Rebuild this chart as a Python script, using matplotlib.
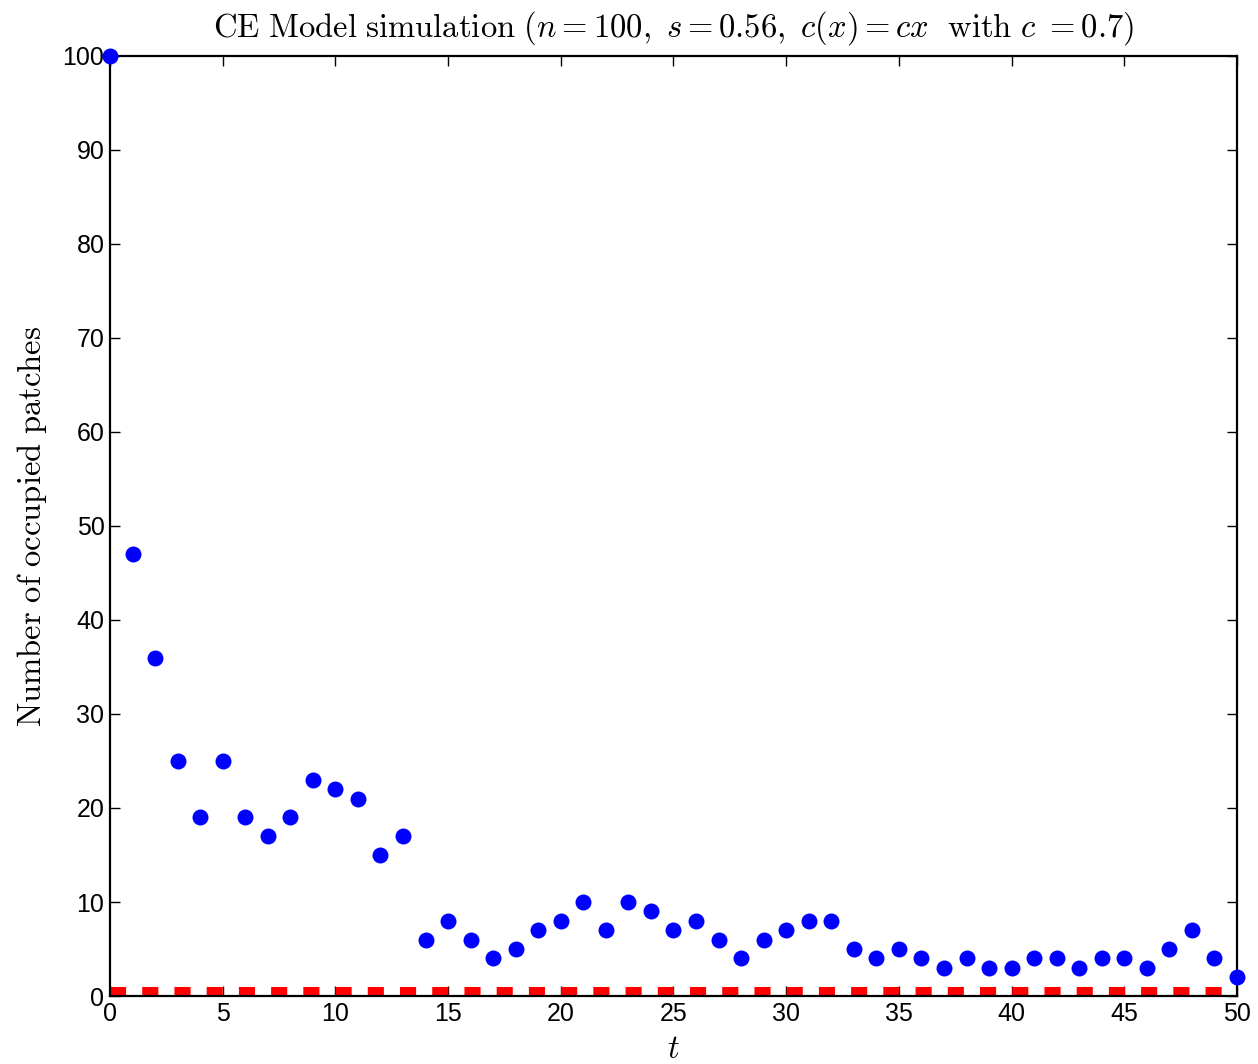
import matplotlib
matplotlib.use("Agg")
import matplotlib.pyplot as plt

t = list(range(51))
occupied = [100, 47, 36, 25, 19, 25, 19, 17, 19, 23, 22, 21, 15, 17, 6, 8, 6, 4, 5, 7,
            8, 10, 7, 10, 9, 7, 8, 6, 4, 6, 7, 8, 8, 5, 4, 5, 4, 3, 4, 3,
            3, 4, 4, 3, 4, 4, 3, 5, 7, 4, 2]
equilibrium = 0.5
xticks = list(range(0, 51, 5))
yticks = list(range(0, 101, 10))

plt.rcParams['mathtext.fontset'] = 'cm'
plt.rcParams['font.family'] = ['Liberation Sans', 'DejaVu Sans']

fig = plt.figure(figsize=(12.58, 10.64), dpi=100)
ax = fig.add_axes([110/1258, 1 - 996/1064, (1237-110)/1258, (996-56)/1064])

ax.plot([t[0], t[-1]], [equilibrium, equilibrium], color='#ff0000', lw=5.8,
        dashes=(2, 2), solid_capstyle='butt', dash_capstyle='butt', zorder=2)
ax.plot(t, occupied, 'o', color='#0000ff', markersize=11.5, markeredgewidth=0,
        clip_on=False, zorder=3)

ax.set_xlim(0, 50)
ax.set_ylim(0, 100)
ax.set_xticks(xticks)
ax.set_yticks(yticks)
ax.tick_params(direction='in', length=7, width=1, top=True, right=True,
               labelsize=18, pad=4, colors='black')
for s in ax.spines.values():
    s.set_linewidth(1.6)

ax.set_title(r'$\mathrm{CE\ Model\ simulation}\ (n=100,\ s=0.56,\ c(x)=cx\ \ \mathrm{with}\ c\ =0.7)$',
             fontsize=23.5, pad=14)
ax.set_xlabel(r'$t$', fontsize=23.5, labelpad=6)
ax.set_ylabel(r'$\mathrm{Number\ of\ occupied\ patches}$', fontsize=23.5, labelpad=10)

fig.savefig('out.png', dpi=100)
